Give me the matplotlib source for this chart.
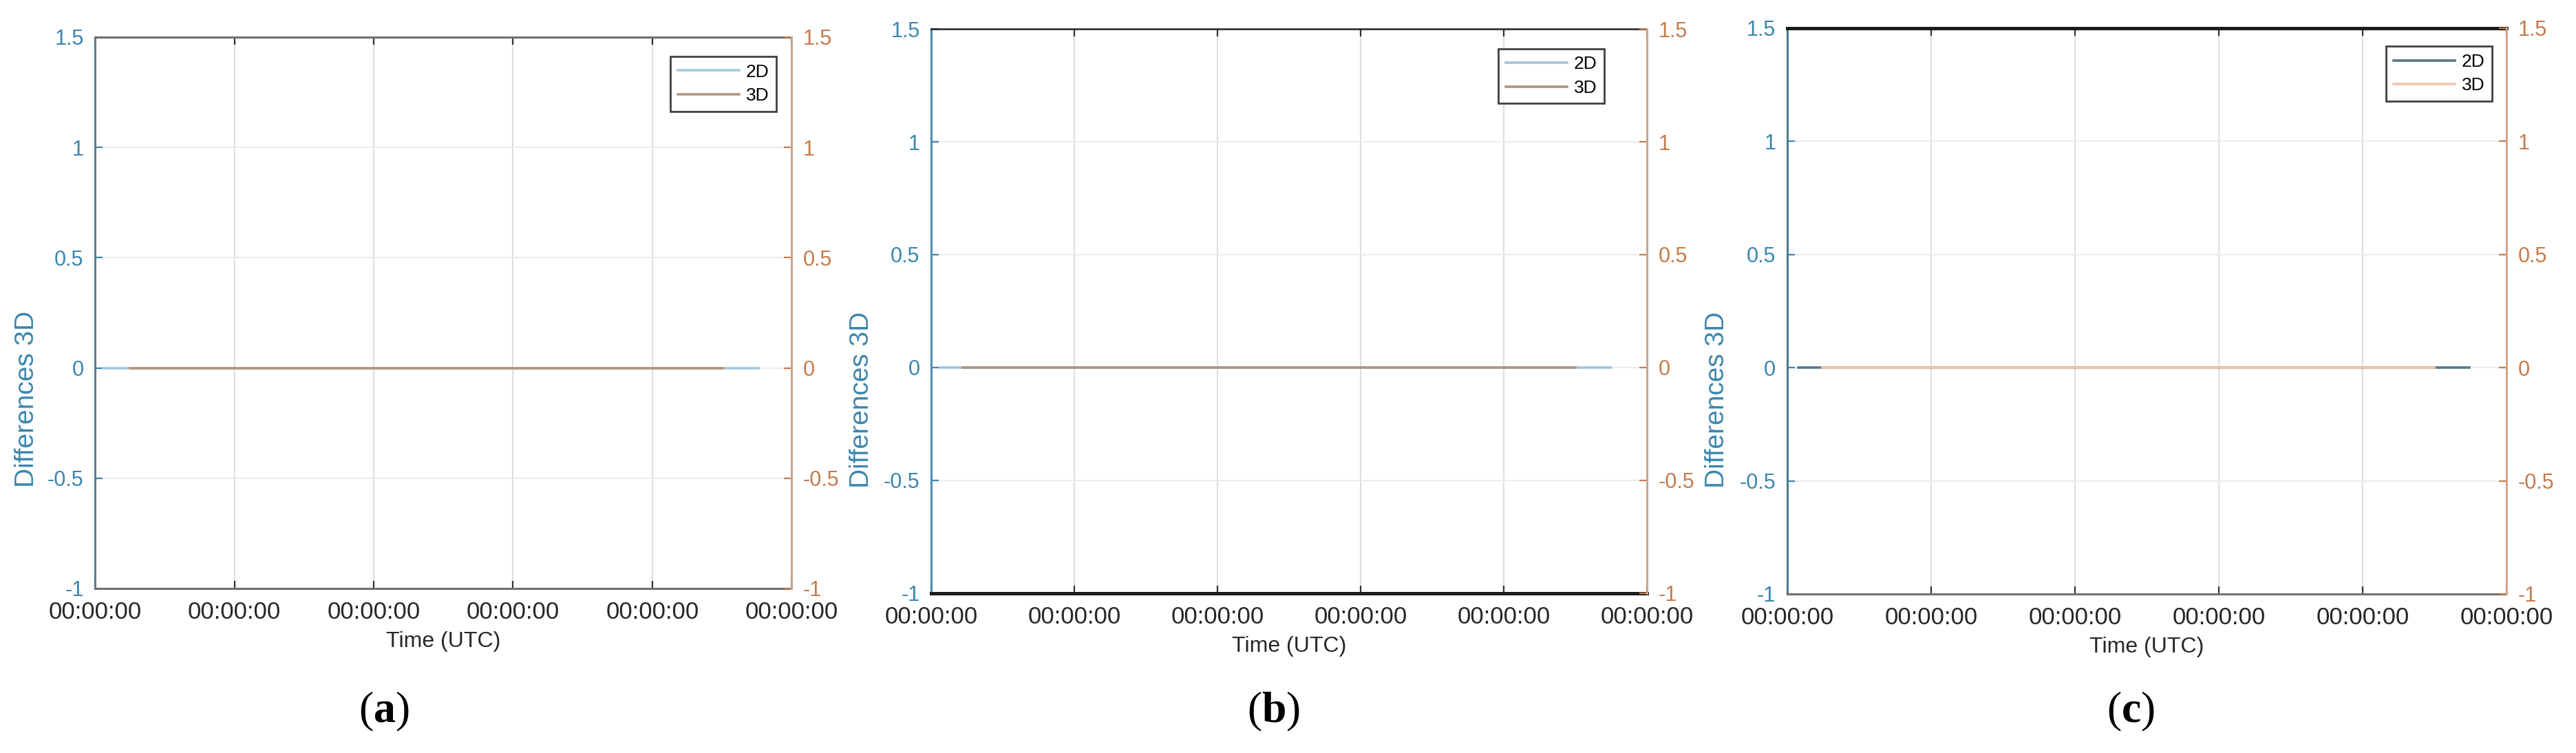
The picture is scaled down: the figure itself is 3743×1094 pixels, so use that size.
import matplotlib
matplotlib.use("Agg")
import matplotlib.pyplot as plt


# time axis (seconds from start, all ticks read 00:00:00)
time_ticks = [0, 1, 2, 3, 4, 5]
time_labels = ["00:00:00"] * 6
diff_ticks = [-1, -0.5, 0, 0.5, 1, 1.5]
diff_labels = ["-1", "-0.5", "0", "0.5", "1", "1.5"]

# panel (a)
a_time_2d = [0.06, 1.0, 2.0, 3.0, 4.0, 4.76]
a_diff_2d = [0, 0, 0, 0, 0, 0]
a_time_3d = [0.25, 1.0, 2.0, 3.0, 4.0, 4.51]
a_diff_3d = [0, 0, 0, 0, 0, 0]

# panel (b)
b_time_2d = [0.06, 1.0, 2.0, 3.0, 4.0, 4.75]
b_diff_2d = [0, 0, 0, 0, 0, 0]
b_time_3d = [0.22, 1.0, 2.0, 3.0, 4.0, 4.5]
b_diff_3d = [0, 0, 0, 0, 0, 0]

# panel (c)
c_time_2d = [0.075, 1.0, 2.0, 3.0, 4.0, 4.74]
c_diff_2d = [0, 0, 0, 0, 0, 0]
c_time_3d = [0.245, 1.0, 2.0, 3.0, 4.0, 4.5]
c_diff_3d = [0, 0, 0, 0, 0, 0]

LEFT_C = "#3a86ae"
RIGHT_C = "#c57a4a"
SANS = "Liberation Sans"

plt.rcParams["mathtext.fontset"] = "custom"
plt.rcParams["mathtext.rm"] = "Liberation Serif"
plt.rcParams["mathtext.bf"] = "Liberation Serif:bold"


def draw_panel(rect, t2, d2, t3, d3, col2, col3, styles, letter, leg_off, lab_x):
    ax = fig.add_axes(rect)
    ax2 = ax.twinx()

    l2, = ax.plot(t2, d2, color=col2, lw=2.6, label="2D")
    l3, = ax2.plot(t3, d3, color=col3, lw=2.6, label="3D")

    for a in (ax, ax2):
        a.set_xlim(time_ticks[0], time_ticks[-1])
        a.set_ylim(-1, 1.5)
        a.set_yticks(diff_ticks)
        a.set_yticklabels(diff_labels)
        a.tick_params(direction="in", length=8, width=1.6, labelsize=22, pad=12)
    ax2.grid(False)
    ax.set_xticks(time_ticks)
    ax.set_xticklabels(time_labels, fontsize=25, color="#262626", family=SANS)
    ax.tick_params(axis="x", top=True, pad=13, colors="#303030", labelcolor="#262626")
    ax.xaxis.grid(True, color="#dedede", lw=1.5)
    ax.yaxis.grid(True, color="#ececec", lw=1.5)
    ax.set_axisbelow(True)

    ax.tick_params(axis="y", colors=LEFT_C)
    ax2.tick_params(axis="y", colors=RIGHT_C)
    for lab in ax.get_yticklabels() + ax2.get_yticklabels():
        lab.set_family(SANS)

    ax.set_xlabel("Time (UTC)", fontsize=23, color="#262626", family=SANS, labelpad=8)
    ax.set_ylabel("Differences 3D", fontsize=28, color=LEFT_C, family=SANS)
    ax.yaxis.set_label_coords(-0.08, 0.343)

    top_c, top_w, bot_c, bot_w, left_c, right_c = styles
    for a in (ax, ax2):
        for s in a.spines.values():
            s.set_visible(False)
    ax.spines["left"].set_visible(True)
    ax.spines["left"].set_color(left_c)
    ax.spines["left"].set_linewidth(2.2)
    ax.spines["top"].set_visible(True)
    ax.spines["top"].set_color(top_c)
    ax.spines["top"].set_linewidth(top_w)
    ax.spines["bottom"].set_visible(True)
    ax.spines["bottom"].set_color(bot_c)
    ax.spines["bottom"].set_linewidth(bot_w)
    ax2.spines["right"].set_visible(True)
    ax2.spines["right"].set_color(right_c)
    ax2.spines["right"].set_linewidth(2.2)

    leg = ax2.legend([l2, l3], ["2D", "3D"], loc="upper right",
                     bbox_to_anchor=leg_off, borderaxespad=0,
                     fancybox=False, framealpha=1, edgecolor="#404040",
                     prop={"family": SANS, "size": 19}, handlelength=3.4,
                     borderpad=0.4, labelspacing=0.4, handletextpad=0.35)
    leg.get_frame().set_linewidth(2.0)

    x_lab = rect[0] + rect[2] * lab_x
    fig.text(x_lab, 0.055, "($\\mathbf{%s}$)" % letter, fontsize=46,
             family="Liberation Serif", ha="center", va="center")
    return ax, ax2


fig = plt.figure(figsize=(37.43, 10.94), dpi=100)

panels = [
    ([0.0369, 0.2185, 0.2704, 0.7322], a_time_2d, a_diff_2d, a_time_3d, a_diff_3d,
     "#9fcbdd", "#b39484",
     ("#707070", 2.2, "#707070", 2.2, "#5b7f92", "#c4a592"), "a", (0.978, 0.965), 0.415),
    ([0.3615, 0.2121, 0.2779, 0.7495], b_time_2d, b_diff_2d, b_time_3d, b_diff_3d,
     "#a2c4da", "#ae9482",
     ("#202020", 1.8, "#1c1c1c", 3.6, "#4b8db3", "#c8a690"), "b", (0.94, 0.965), 0.478),
    ([0.6938, 0.2112, 0.2792, 0.7514], c_time_2d, c_diff_2d, c_time_3d, c_diff_3d,
     "#557788", "#efc5ac",
     ("#1c1c1c", 3.6, "#707070", 2.2, "#4e7a90", "#d4a486"), "c", (0.98, 0.968), 0.478),
]

for rect, t2, d2, t3, d3, c2, c3, styles, letter, off, lx in panels:
    draw_panel(rect, t2, d2, t3, d3, c2, c3, styles, letter, off, lx)

fig.savefig("out.png", dpi=100)
